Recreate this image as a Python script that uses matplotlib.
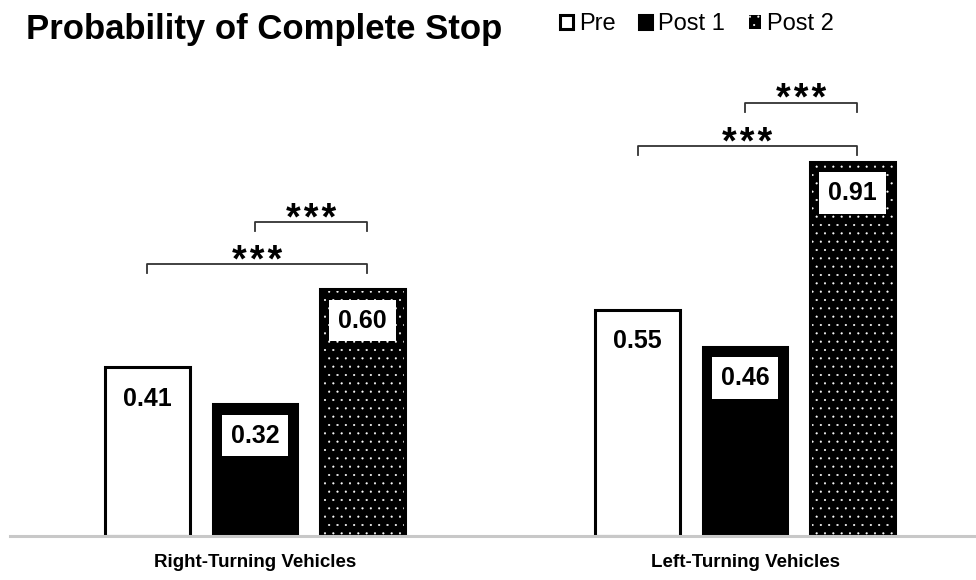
import matplotlib
matplotlib.use("Agg")
import matplotlib.pyplot as plt
from matplotlib import font_manager
import numpy as np

groups = ["Right-Turning Vehicles", "Left-Turning Vehicles"]
series = ["Pre", "Post 1", "Post 2"]
pre = [0.41, 0.55]
post1 = [0.32, 0.46]
post2 = [0.60, 0.91]
labels = ["0.41", "0.32", "0.60", "0.55", "0.46", "0.91"]

# significance brackets: (group, from series, to series, height)
brackets = [(0, 0, 2, 0.662), (0, 1, 2, 0.764),
            (1, 0, 2, 0.949), (1, 1, 2, 1.054)]

plt.rcParams['font.family'] = ['Liberation Sans', 'DejaVu Sans']
plt.rcParams['hatch.linewidth'] = 0.3

names = {f.name for f in font_manager.fontManager.ttflist}
narrow = 'Liberation Sans Narrow' if 'Liberation Sans Narrow' in names else 'Liberation Sans'
tick_size = 15 if narrow == 'Liberation Sans Narrow' else 13.5

fig = plt.figure(figsize=(9.76, 5.8), dpi=100)
ax = fig.add_axes([10/976, 44/580, 966/976, 476/580])

x = np.arange(len(groups))
off = 0.2194
w = 0.172

b_pre = ax.bar(x - off, pre, w, color="white", edgecolor="black", linewidth=2.2, label="Pre")
b_p1 = ax.bar(x, post1, w, color="black", edgecolor="black", linewidth=2.2, label="Post 1")
b_p2 = ax.bar(x + off, post2, w, color="black", edgecolor="white", linewidth=0, hatch="..", label="Post 2")
ax.bar(x + off, post2, w, fill=False, edgecolor="black", linewidth=2.2)

vals = []
xs = []
for i in range(len(groups)):
    for j, s in enumerate([pre, post1, post2]):
        vals.append(s[i])
        xs.append(x[i] + (j - 1) * off)
for xi, v, t in zip(xs, vals, labels):
    ax.annotate(t, (xi, v), xytext=(0, -22.5), textcoords="offset points",
                ha="center", va="center", fontsize=18, fontweight="bold",
                bbox=dict(boxstyle="square,pad=0.35", fc="white", ec="none"))

for g, a, b, h in brackets:
    x1 = x[g] + (a - 1) * off
    x2 = x[g] + (b - 1) * off + 0.01
    ax.plot([x1, x1, x2, x2], [h - 0.022, h, h, h - 0.022], color="#333333", lw=1.3)
    ax.annotate("*\u200a*\u200a*", ((x1 + x2) / 2, h), xytext=(0, -5.5), textcoords="offset points",
                ha="center", va="baseline", fontsize=27, fontweight="bold", color="black")

ax.set_xlim(-0.5, 1.4714)
ax.set_ylim(0, 1.158)
ax.set_xticks(x)
ax.set_xticklabels(groups, fontsize=tick_size, fontweight="bold", family=[narrow, 'DejaVu Sans'])
ax.tick_params(axis="x", length=0, pad=13)
ax.set_yticks([])
for s in ["top", "right", "left"]:
    ax.spines[s].set_visible(False)
ax.spines["bottom"].set_color("#c8c8c8")
ax.spines["bottom"].set_linewidth(2.2)
ax.spines["bottom"].set_zorder(5)

fig.text(26/976, 1 - 39/580, "Probability of Complete Stop", fontsize=25,
         fontweight="bold", va="baseline", ha="left")
fig.legend(handles=[b_pre, b_p1, b_p2], labels=series, loc="center left",
           bbox_to_anchor=(560/976, 1 - 24/580), ncol=3, frameon=False,
           fontsize=17, handlelength=0.55, handleheight=0.55, handletextpad=0.25,
           columnspacing=1.0, borderpad=0, borderaxespad=0)

fig.savefig("out.png", dpi=100)
